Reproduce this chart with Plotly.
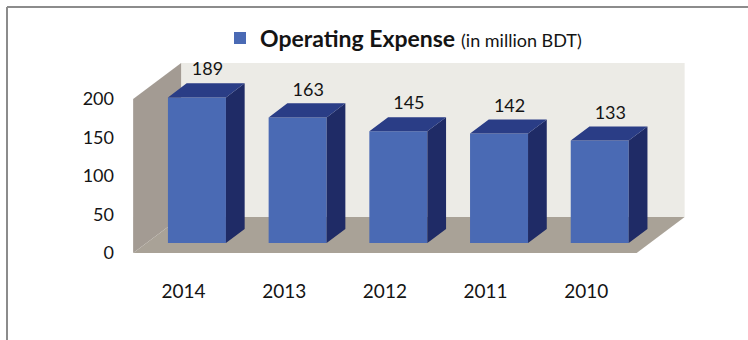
import plotly.graph_objects as go

# Operating expense by year (million BDT)
years = ["2014", "2013", "2012", "2011", "2010"]
expense = [189, 163, 145, 142, 133]
y_ticks = [0, 50, 100, 150, 200]

# ---- layout geometry (pixels) ----
W, H = 748, 340
PL, PR, PT, PB = 125, 700, 50, 262      # plot-area edges
X0_PX, X_STEP = 183.5, 100.7            # px of category 0 and px per category
Y0_PX, Y_STEP = 253.0, 0.77             # px of value 0 and px per value unit
DEPTH_X_PX, DEPTH_Y_PX = 48.0, 36.0     # oblique depth of the floor / walls

x_range = [(PL - X0_PX) / X_STEP, (PR - X0_PX) / X_STEP]
y_range = [(Y0_PX - PB) / Y_STEP, (Y0_PX - PT) / Y_STEP]
DX = DEPTH_X_PX / X_STEP                # depth offset in category units
DY = DEPTH_Y_PX / Y_STEP                # depth offset in value units

D_FRONT, D_BACK = 0.28, 0.67            # bar depth inside the floor
BAR_W = 0.576
Y_MAX = y_ticks[-1]
n = len(years)
x_lo, x_hi = -0.5, n - 0.5

FRONT = "#4a6ab4"
SIDE = "#1f2b66"
TOP = "#2a3d86"
FLOOR = "#a9a297"
LEFT_WALL = "#a39b93"
BACK_WALL = "#ecebe6"
FONT = "Lato"
TXT = "#141414"

fig = go.Figure()


def panel(xs, ys, color):
    """Filled wall/floor panel drawn beneath the bars."""
    path = "M" + "L".join(f"{x},{y}" for x, y in zip(xs, ys)) + "Z"
    return dict(type="path", xref="x", yref="y", path=path,
                fillcolor=color, line=dict(width=0), layer="below")


shapes = [
    # back wall
    panel([x_lo + DX, x_hi + DX, x_hi + DX, x_lo + DX],
          [DY, DY, Y_MAX + DY, Y_MAX + DY], BACK_WALL),
    # left wall
    panel([x_lo, x_lo + DX, x_lo + DX, x_lo],
          [0, DY, Y_MAX + DY, Y_MAX], LEFT_WALL),
    # floor
    panel([x_lo, x_hi, x_hi + DX, x_lo + DX], [0, 0, DY, DY], FLOOR),
]


def px_to_paper_x(p):
    return (p - PL) / (PR - PL)


def px_to_paper_y(p):
    return (PB - p) / (PB - PT)


# thin frame along the top and left edges
shapes += [
    dict(type="line", xref="paper", yref="paper",
         x0=px_to_paper_x(7), x1=px_to_paper_x(W + 2),
         y0=px_to_paper_y(7), y1=px_to_paper_y(7),
         line=dict(color="#8c8c8c", width=2)),
    dict(type="line", xref="paper", yref="paper",
         x0=px_to_paper_x(7), x1=px_to_paper_x(7),
         y0=px_to_paper_y(7), y1=px_to_paper_y(H + 2),
         line=dict(color="#8c8c8c", width=2)),
]

# bar front faces
xc = [i + D_FRONT * DX for i in range(n)]
fig.add_trace(go.Bar(
    x=xc, y=expense, base=D_FRONT * DY, width=BAR_W,
    marker=dict(color=FRONT, line=dict(width=0)),
    name="<b>Operating Expense</b> <span style='font-size:18px'>(in million BDT)</span>",
    hoverinfo="skip"))


def poly(xs, ys, color):
    fig.add_trace(go.Scatter(
        x=xs, y=ys, mode="lines", fill="toself", fillcolor=color,
        line=dict(width=0, color=color), hoverinfo="skip", showlegend=False))


# bar sides and tops
ex = (D_BACK - D_FRONT) * DX
ey = (D_BACK - D_FRONT) * DY
sx, sy, tx, ty = [], [], [], []
for c, v in zip(xc, expense):
    xl, xr = c - BAR_W / 2, c + BAR_W / 2
    yb, yt = D_FRONT * DY, v + D_FRONT * DY
    sx += [xr, xr + ex, xr + ex, xr, None]
    sy += [yb, yb + ey, yt + ey, yt, None]
    tx += [xl, xr, xr + ex, xl + ex, None]
    ty += [yt, yt, yt + ey, yt + ey, None]
poly(sx, sy, SIDE)
poly(tx, ty, TOP)

# value labels above each bar
fig.add_trace(go.Scatter(
    x=[i + 0.5 * DX for i in range(n)],
    y=[v + 0.5 * DY + 24 for v in expense],
    mode="text", text=[str(v) for v in expense],
    textposition="middle center",
    textfont=dict(family=FONT, size=18, color=TXT),
    hoverinfo="skip", showlegend=False, cliponaxis=False))

fig.update_layout(
    template="none",
    width=W, height=H,
    margin=dict(l=PL, r=W - PR, t=PT, b=H - PB, pad=0),
    paper_bgcolor="white", plot_bgcolor="rgba(0,0,0,0)",
    showlegend=True,
    legend=dict(
        orientation="h", x=px_to_paper_x(220), y=px_to_paper_y(38),
        xanchor="left", yanchor="middle",
        font=dict(family=FONT, size=23, color=TXT),
        bgcolor="rgba(0,0,0,0)", borderwidth=0),
    xaxis=dict(
        range=x_range, tickvals=list(range(n)), ticktext=years,
        showgrid=False, zeroline=False, showline=False, ticks="",
        ticklabelstandoff=16, automargin=False, fixedrange=True,
        tickfont=dict(family=FONT, size=19, color=TXT)),
    yaxis=dict(
        range=y_range, tickvals=y_ticks,
        showgrid=False, zeroline=False, showline=False, ticks="",
        ticklabelstandoff=10, automargin=False, fixedrange=True,
        tickfont=dict(family=FONT, size=18, color=TXT)),
    shapes=shapes,
)

fig.write_html("out.html")
